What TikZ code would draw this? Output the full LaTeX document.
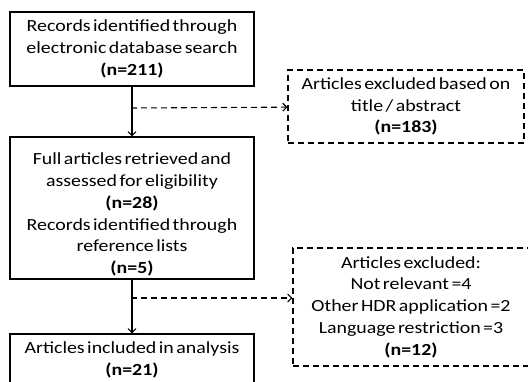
\documentclass[tikz,border=0pt]{standalone}
\usepackage{fontspec}
\setmainfont{Carlito}[WordSpace=0.55,FakeStretch=1.17]
\usetikzlibrary{arrows.meta}

\tikzset{
  box/.style={draw, rectangle, line width=1.1pt, align=center, inner sep=0pt, font=\fontsize{17}{21.8}\selectfont},
  dbox/.style={box, dash pattern=on 6pt off 4pt},
  flow/.style={line width=1.1pt, -{Straight Barb[length=4pt,width=8pt]}},
  dflow/.style={flow, dash pattern=on 6pt off 4pt},
}

\begin{document}
\begin{tikzpicture}[x=1pt,y=-1pt]
\useasboundingbox (0,0) rectangle (528,382);

\node[box, minimum width=244pt, minimum height=74pt] (search) at (132,49) {Records identified through\\electronic database search\\\textbf{(n=211)}};
\node[box, minimum width=244pt, minimum height=142pt] (full) at (132,208) {\rule{0pt}{25pt}Full articles retrieved and\\assessed for eligibility\\\textbf{(n=28)}\\Records identified through\\reference lists\\\textbf{(n=5)}};
\node[box, minimum width=244pt, minimum height=52pt] (incl) at (132,360) {Articles included in analysis\\\textbf{(n=21)}};
\node[dbox, minimum width=236pt, minimum height=73pt] (excl1) at (406,106.5) {Articles excluded based on\\title / abstract\\\textbf{(n=183)}};
\node[dbox, minimum width=236pt, minimum height=118pt] (excl2) at (411,307) {Articles excluded:\\Not relevant =4\\Other HDR application =2\\Language restriction =3\\\textbf{(n=12)}};

\coordinate (b1) at (131,108);
\coordinate (b2) at (131,298);
\coordinate (e2) at (excl2.west |- b2);

\draw[flow] (search) -- (full);
\draw[flow] (full) -- (incl);
\draw[dflow] (b1) -- (excl1);
\draw[dflow] (b2) -- (e2);
\end{tikzpicture}
\end{document}
